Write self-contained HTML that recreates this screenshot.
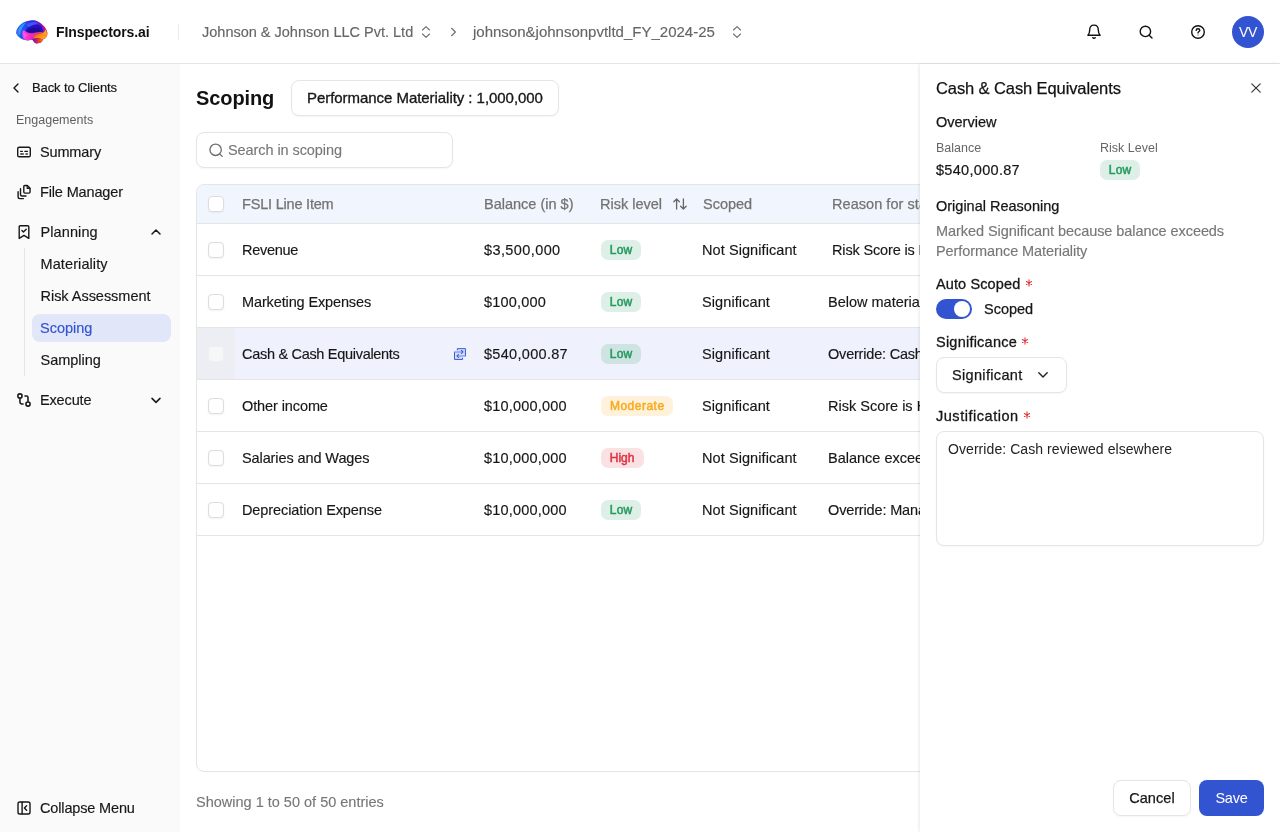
<!DOCTYPE html>
<html lang="en">
<head>
<meta charset="utf-8">
<title>Scoping</title>
<style>
*{box-sizing:border-box;margin:0;padding:0}
html,body{width:1280px;height:832px;overflow:hidden;background:#fff}
body{font-family:"Liberation Sans",sans-serif;color:#171717;position:relative;-webkit-font-smoothing:antialiased}
#app{position:absolute;left:0;top:0;width:1280px;height:832px;will-change:transform}
.abs{position:absolute}
.t{position:absolute;white-space:nowrap;line-height:20px;height:20px}
svg{position:absolute;overflow:visible}
/* header */
#hdr{position:absolute;left:0;top:0;width:1280px;height:64px;background:#fff;border-bottom:1px solid #e5e5e5}
/* sidebar */
#side{position:absolute;left:0;top:64px;width:180px;height:768px;background:#fafafa}
.nav{font-size:14.5px;color:#171717;letter-spacing:-.15px;-webkit-text-stroke:.15px}
/* main */
#main{position:absolute;left:180px;top:64px;width:1100px;height:768px;background:#fff}
.pill{position:absolute;border:1px solid #e5e5e5;border-radius:8px;background:#fff;box-shadow:0 1px 2px rgba(0,0,0,.04)}
#tbl{position:absolute;left:196px;top:184px;width:900px;height:588px;border:1px solid #e5e5e5;border-radius:8px;overflow:hidden;background:#fff}
.row{position:absolute;left:0;width:900px;height:52px;border-bottom:1px solid #e5e5e5}
.row .t{top:16px;font-size:14.5px;-webkit-text-stroke:.15px #171717}
.th{font-size:14.5px;color:#737373;-webkit-text-stroke:.25px #737373}
.cb{position:absolute;left:11px;width:16px;height:16px;border:1px solid #dcdcdc;border-radius:4px;background:#fff;box-shadow:0 1px 2px rgba(0,0,0,.05)}
.bdg{position:absolute;height:20px;border-radius:7px;font-size:12px;font-weight:400;line-height:20px;text-align:center;-webkit-text-stroke:.5px}
.low{background:rgba(42,157,99,.16);color:#249a5e;letter-spacing:.25px;text-indent:.25px}
.mod{background:rgba(249,171,30,.155);color:#f9ab1e}
.high{background:rgba(223,51,65,.15);color:#df3341;letter-spacing:0;text-indent:-.8px}
/* panel */
#pnl{position:absolute;left:920px;top:64px;width:360px;height:768px;background:#fff;box-shadow:-1px 0 3px rgba(0,0,0,.09)}
.req{color:#e5484d}
</style>
</head>
<body>
<div id="app">
<div id="hdr">
<!-- logo brain -->
<svg style="left:15px;top:19px" width="33" height="25" viewBox="0 0 33 25">
<defs>
<filter id="bl" x="-10%" y="-10%" width="120%" height="120%"><feGaussianBlur stdDeviation=".42"/></filter>
<filter id="bl2" x="-20%" y="-20%" width="140%" height="140%"><feGaussianBlur stdDeviation=".7"/></filter>
<clipPath id="bc"><path d="M1.1 13.6 C1.2 11.8 1.7 10.3 2.6 9 C3.6 7.4 4.8 6 6.2 5 C7.3 4.1 8.6 3.3 10 2.8 C11.6 2.1 13.2 1.6 15 1.4 C16.6 1.2 18.2 1.1 19.6 1.3 C21.2 1.6 22.6 2.2 23.8 3 C25.2 3.8 26.4 4.8 27.4 5.8 C28.8 7 29.9 8.3 30.7 9.6 C31.5 10.9 32.1 12.2 32.3 13.6 C32.5 14.9 32.3 16.1 31.8 17.2 C31.3 18.3 30.6 19.2 29.6 19.8 C29 20.2 28.3 20.4 27.6 20.5 C27.7 21.4 27.5 22.2 27 22.8 C26.4 23.5 25.5 23.9 24.4 24.1 C23.3 24.3 22.1 24.6 21 24.4 C20 24.1 19.3 23.4 18.8 22.7 C18.2 22 17.6 21.3 17.1 20.6 C15.8 21.1 14.5 21.4 13.2 21.4 C11.9 21.4 10.6 21.3 9.3 21 C7.9 20.6 6.6 20 5.4 19.2 C4.2 18.5 3.2 17.6 2.4 16.6 C1.6 15.7 1.1 14.7 1.1 13.6Z"/></clipPath>
<linearGradient id="gB" x1="0" y1="0" x2="1" y2="0"><stop offset="0" stop-color="#1f86ff"/><stop offset=".22" stop-color="#1f62f5"/><stop offset=".5" stop-color="#3a22d8"/><stop offset=".8" stop-color="#6a16c4"/><stop offset="1" stop-color="#c01890"/></linearGradient>
<linearGradient id="gP" x1="0" y1="0" x2="1" y2="0"><stop offset="0" stop-color="#ff48ea"/><stop offset=".45" stop-color="#f028b0"/><stop offset=".8" stop-color="#f03a70"/><stop offset="1" stop-color="#ff6a30"/></linearGradient>
<linearGradient id="gO" x1="0" y1="0" x2="1" y2="0"><stop offset="0" stop-color="#ff6a1a"/><stop offset=".5" stop-color="#ff9410"/><stop offset="1" stop-color="#ffae14"/></linearGradient>
<linearGradient id="gC" x1="0" y1="0" x2="1" y2="0"><stop offset="0" stop-color="#7a0ea8"/><stop offset=".35" stop-color="#b81870"/><stop offset=".65" stop-color="#e8401c"/><stop offset="1" stop-color="#ff7c10"/></linearGradient>
</defs>
<g filter="url(#bl)"><g clip-path="url(#bc)">
<rect x="0" y="0" width="33" height="25" fill="url(#gB)"/>
<!-- left blue stripes -->
<path d="M2 15 C2.5 10 6 5.5 11 3.5 C8 6.5 6 10.5 6.5 16.5 Z" fill="#2b9dff" filter="url(#bl2)"/>
<path d="M5.2 18.5 C4.6 12.5 7.5 7 13 4 C10 8 9 12.5 10 19.5 Z" fill="#1d55ee" filter="url(#bl2)"/>
<path d="M1 14.5 C1.4 12 2.6 9.5 4.2 7.6 C3.2 10.5 3.2 13.5 4.4 16.8 Z" fill="#7a3ae0" opacity=".55" filter="url(#bl2)"/>
<!-- light violet-blue highlight band at the top -->
<path d="M11.5 5.5 C15 3 20 2.2 24 4.2 C20.5 4.6 16.5 6.2 13.8 8.8 Z" fill="#3d55ff" filter="url(#bl2)"/>
<!-- dark indigo core -->
<path d="M10.6 12 C11.5 8.5 16.5 6 22 6 C25.5 6 28 8 28.2 10.8 C28.2 12.6 26.5 13.4 24 13.4 C20 13.2 17 14.6 14 14.2 C12 13.8 10.6 13.2 10.6 12Z" fill="#2a10b8" filter="url(#bl2)"/>
<path d="M13 11.6 C15 9.4 19.5 8.6 24 9.6 C25.6 10.2 25.8 11.8 24 12.4 C20.5 12.2 17.5 13.4 15 13.2 C13.6 13 12.8 12.4 13 11.6Z" fill="#1c0c96" filter="url(#bl2)"/>
<!-- purple/magenta right rim -->
<path d="M26 4.8 C29 7 31.6 10.2 32.4 13.8 L30 14 C30 10.6 28.4 7.6 26 4.8Z" fill="#d01878" filter="url(#bl2)"/>
<path d="M24.5 5 C27.8 7.4 29.6 10.4 29.8 13.6 L28 13.6 C28.4 10.4 27 7.4 24.5 5Z" fill="#8a18c0" filter="url(#bl2)"/>
<!-- pink swoosh -->
<path d="M7.6 11.6 C8.6 11.2 9.8 11.6 10.8 12.6 C12.4 14 14.8 14.6 17.6 14.2 C20 13.8 22.4 13.2 25 13.1 C26.4 13.1 27.4 13.4 28 13.8 C25.4 14 23.4 14.7 21.8 15.6 C20 16.6 18.6 17.8 18 19.2 C17.8 19.9 17.5 20.4 17.1 20.7 C14.6 21.7 11.4 21.7 9 20.6 C7.6 18.4 6.8 15 7.6 11.6Z" fill="url(#gP)" filter="url(#bl)"/>
<path d="M8.2 12.6 C9.2 14.6 11.2 15.8 13.6 16 C11.8 16.8 10.4 17.6 9.6 19 C8.6 17.2 8 15 8.2 12.6Z" fill="#ff58f0" opacity=".85" filter="url(#bl2)"/>
<!-- orange lower right -->
<path d="M17.8 19.8 C18.4 18 20 16.6 22 15.6 C23.8 14.8 25.8 14.2 28 13.9 C29 13.4 29.8 12.4 30.2 10.6 C31.4 11.6 32.2 12.6 32.4 13.6 C32.6 15 32.4 16.4 31.8 17.4 C31.2 18.6 30.4 19.4 29.6 19.9 C28.2 20.6 26.4 20.2 25 19.6 C23 19 20.4 19.2 17.8 19.8Z" fill="url(#gO)" filter="url(#bl)"/>
<path d="M20.5 17.7 C23 16.3 27 15.7 31 16.3" stroke="#e85a08" stroke-width=".6" fill="none" opacity=".6"/>
<path d="M30.8 10.6 C31.8 12.4 32.2 14.6 31.6 17 C32.6 15.8 32.8 13.8 32.2 12.2 Z" fill="#d8185a" opacity=".85" filter="url(#bl2)"/>
<!-- cerebellum -->
<path d="M17.2 20.4 C18.6 19.5 20.6 19.1 22.6 19.2 C24.4 19.3 26.2 19.7 27.5 20.5 C27.8 21.4 27.6 22.2 27 22.9 C26.2 23.7 25.2 24 24.2 24.2 C23.2 24.4 22 24.7 21 24.4 C20 24 19.2 23.3 18.7 22.6 C18.2 21.9 17.6 21.2 17.2 20.4Z" fill="url(#gC)"/>
</g></g>
</svg>
<div class="t" style="left:56px;top:22px;font-size:14px;font-weight:700;color:#111;letter-spacing:-.1px">FInspectors.ai</div>
<div class="abs" style="left:178px;top:24px;width:1px;height:16px;background:#ebebeb"></div>
<div class="t" style="left:202px;top:22px;font-size:14.5px;color:#666;-webkit-text-stroke:.15px #666">Johnson &amp; Johnson LLC Pvt. Ltd</div>
<svg style="left:419px;top:24px" width="14" height="16" viewBox="0 0 14 16" fill="none" stroke="#6f6f6f" stroke-width="1.15" stroke-linecap="round" stroke-linejoin="round"><path d="M3.5 6 L7 2.7 L10.5 6"/><path d="M3.5 10 L7 13.3 L10.5 10"/></svg>
<svg style="left:447px;top:25px" width="12" height="14" viewBox="0 0 12 14" fill="none" stroke="#6f6f6f" stroke-width="1.2" stroke-linecap="round" stroke-linejoin="round"><path d="M4.6 3.3 L8.4 7 L4.6 10.7"/></svg>
<div class="t" style="left:473px;top:22px;font-size:15px;color:#666;-webkit-text-stroke:.15px #666">johnson&amp;johnsonpvtltd_FY_2024-25</div>
<svg style="left:730px;top:24px" width="14" height="16" viewBox="0 0 14 16" fill="none" stroke="#6f6f6f" stroke-width="1.15" stroke-linecap="round" stroke-linejoin="round"><path d="M3.5 6 L7 2.7 L10.5 6"/><path d="M3.5 10 L7 13.3 L10.5 10"/></svg>
<!-- bell -->
<svg style="left:1086px;top:24px" width="16" height="16" viewBox="0 0 16 16" fill="none" stroke="#111" stroke-width="1.4" stroke-linecap="round" stroke-linejoin="round"><path d="M1.9 11.3 C3.3 9.9 3.7 8.6 3.7 6 C3.7 3.2 5.4 1.1 8 1.1 C10.6 1.1 12.3 3.2 12.3 6 C12.3 8.6 12.7 9.9 14.1 11.3 Z"/><path d="M6.8 13.7 C7.3 14.5 8.7 14.5 9.2 13.7"/></svg>
<!-- search -->
<svg style="left:1138px;top:24px" width="16" height="16" viewBox="0 0 16 16" fill="none" stroke="#111" stroke-width="1.4" stroke-linecap="round"><circle cx="7.4" cy="7.4" r="5.2"/><path d="M11.4 11.4 L14 14"/></svg>
<!-- help -->
<svg style="left:1190px;top:24px" width="16" height="16" viewBox="0 0 16 16" fill="none" stroke="#111" stroke-width="1.4" stroke-linecap="round" stroke-linejoin="round"><circle cx="8" cy="8" r="6.3"/><path d="M6.2 6.4 C6.2 5.3 7 4.7 8 4.7 C9 4.7 9.8 5.3 9.8 6.3 C9.8 7.5 8 7.6 8 8.9"/><circle cx="8" cy="11.1" r=".5" fill="#111" stroke="none"/></svg>
<div class="abs" style="left:1232px;top:16px;width:32px;height:32px;border-radius:16px;background:#3354d1"></div>
<div class="t" style="left:1232px;top:22px;width:32px;text-align:center;font-size:14px;color:#fff;letter-spacing:-.3px">VV</div>
</div>
<div id="side">
<!-- coordinates inside are relative to sidebar top=64 -->
<svg style="left:11px;top:16px" width="10" height="16" viewBox="0 0 10 16" fill="none" stroke="#171717" stroke-width="1.4" stroke-linecap="round" stroke-linejoin="round"><path d="M7 4 L3 8 L7 12"/></svg>
<div class="t" style="left:32px;top:14px;font-size:13px;color:#171717;letter-spacing:-.12px;-webkit-text-stroke:.2px #171717">Back to Clients</div>
<div class="t" style="left:16px;top:46px;font-size:12.5px;color:#606060">Engagements</div>
<!-- Summary icon -->
<svg style="left:16px;top:80px" width="16" height="16" viewBox="0 0 16 16" fill="none" stroke="#171717" stroke-width="1.4" stroke-linecap="round" stroke-linejoin="round"><rect x="1.7" y="3.2" width="12.6" height="9.6" rx="1.6"/><path d="M4.6 7.3 H6.4 M8.8 7.3 H11.5" stroke-width="1.3"/><path d="M4.2 10 H7.8 M9.4 10 H11.9" stroke-width="1.7" stroke-linecap="butt" stroke="#333"/></svg>
<div class="t nav" style="left:40px;top:78px">Summary</div>
<!-- File manager icon -->
<svg style="left:16px;top:120px" width="16" height="16" viewBox="0 0 16 16" fill="none" stroke="#171717" stroke-width="1.4" stroke-linecap="round" stroke-linejoin="round"><path d="M8.9 1.5 H11.3 L14.05 4.3 V8 C14.05 8.7 13.6 9.1 12.9 9.1 H8.9 C8.2 9.1 7.8 8.7 7.8 8 V2.6 C7.8 1.9 8.2 1.5 8.9 1.5Z"/><path d="M11.2 1.8 V4.4 H13.8" stroke-width="1.2"/><path d="M4.5 4.8 V10.5 C4.5 11.5 5.1 12 6 12 H10"/><path d="M2.1 7.8 V13.1 C2.1 14.1 2.7 14.6 3.6 14.6 H7.4"/></svg>
<div class="t nav" style="left:40px;top:118px">File Manager</div>
<!-- Planning icon -->
<svg style="left:16px;top:160px" width="16" height="16" viewBox="0 0 16 16" fill="none" stroke="#171717" stroke-width="1.4" stroke-linecap="round" stroke-linejoin="round"><path d="M3.2 14.4 V2.8 C3.2 2.2 3.6 1.8 4.2 1.8 H11.8 C12.4 1.8 12.8 2.2 12.8 2.8 V14.4 L8 11.4 Z"/><path d="M5.9 6.6 L7.4 8.1 L10.2 5.2"/></svg>
<div class="t nav" style="left:40.5px;top:158px;letter-spacing:.1px">Planning</div>
<svg style="left:150px;top:162px" width="12" height="12" viewBox="0 0 12 12" fill="none" stroke="#171717" stroke-width="1.5" stroke-linecap="round" stroke-linejoin="round"><path d="M2 8 L6 4 L10 8"/></svg>
<div class="abs" style="left:23.5px;top:184px;width:1px;height:128px;background:#e5e5e5"></div>
<div class="t nav" style="left:40.5px;top:190px;letter-spacing:.1px">Materiality</div>
<div class="t nav" style="left:40.5px;top:222px;letter-spacing:-.03px">Risk Assessment</div>
<div class="abs" style="left:32px;top:250px;width:139px;height:28px;border-radius:8px;background:#e1e6f8"></div>
<div class="t nav" style="left:40px;top:254px;color:#3354d1;letter-spacing:0">Scoping</div>
<div class="t nav" style="left:40.5px;top:286px;letter-spacing:-.02px">Sampling</div>
<!-- Execute icon -->
<svg style="left:16px;top:328px" width="16" height="16" viewBox="0 0 16 16" fill="none" stroke="#171717" stroke-width="1.55" stroke-linecap="round" stroke-linejoin="round"><circle cx="3.95" cy="3.95" r="2.1"/><circle cx="12" cy="12" r="2.1"/><path d="M3.95 6.2 V10.3 C3.95 11.4 4.5 11.9 5.6 11.9 H7.6" stroke-linecap="butt"/><path d="M8.4 3.95 H10.4 C11.5 3.95 12 4.5 12 5.6 V9.8" stroke-linecap="butt"/></svg>
<div class="t nav" style="left:40px;top:326px">Execute</div>
<svg style="left:150px;top:330px" width="12" height="12" viewBox="0 0 12 12" fill="none" stroke="#171717" stroke-width="1.5" stroke-linecap="round" stroke-linejoin="round"><path d="M2 4.4 L6 8.4 L10 4.4"/></svg>
<!-- Collapse -->
<svg style="left:16px;top:736px" width="16" height="16" viewBox="0 0 16 16" fill="none" stroke="#171717" stroke-width="1.4" stroke-linecap="round" stroke-linejoin="round"><rect x="2" y="2" width="12" height="12" rx="1.8"/><path d="M6.1 2.2 V13.8"/><path d="M10.6 5.8 L8.4 8 L10.6 10.2"/></svg>
<div class="t nav" style="left:40px;top:734px">Collapse Menu</div>
</div>
<div id="main"></div>
<div class="t" style="left:196px;top:86px;height:24px;line-height:24px;font-size:20px;font-weight:700;color:#111;letter-spacing:-.1px">Scoping</div>
<div class="pill" style="left:291px;top:80px;width:268px;height:36px"></div>
<div class="t" style="left:307px;top:88px;font-size:15px;color:#171717;letter-spacing:-.05px;-webkit-text-stroke:.33px #171717">Performance Materiality : 1,000,000</div>
<div class="pill" style="left:196px;top:132px;width:257px;height:36px"></div>
<svg style="left:208px;top:142px" width="16" height="16" viewBox="0 0 16 16" fill="none" stroke="#6b6b6b" stroke-width="1.3" stroke-linecap="round"><circle cx="7.6" cy="7.8" r="5.7"/><path d="M11.9 12.1 L14.2 14.4"/></svg>
<div class="t" style="left:228px;top:140px;font-size:14.5px;color:#777;letter-spacing:-.08px;-webkit-text-stroke:.12px #777">Search in scoping</div>
<div class="t" style="left:196px;top:792px;font-size:14.5px;color:#777;-webkit-text-stroke:.12px #777">Showing 1 to 50 of 50 entries</div>
<div id="tbl">
<div class="abs" style="left:0;top:0;width:900px;height:39px;background:#f1f5fd;border-bottom:1px solid #e5e5e5"></div>
<div class="cb" style="top:11px"></div>
<div class="t th" style="left:45px;top:9px;letter-spacing:-.2px">FSLI Line Item</div>
<div class="t th" style="left:287px;top:9px">Balance (in $)</div>
<div class="t th" style="left:403px;top:9px">Risk level</div>
<svg style="left:475px;top:11px" width="16" height="16" viewBox="0 0 16 16" fill="none" stroke="#666" stroke-width="1.3" stroke-linecap="round" stroke-linejoin="round"><path d="M4.6 13 V3 M1.8 5.8 L4.6 3 L7.4 5.8"/><path d="M11.4 3 V13 M8.6 10.2 L11.4 13 L14.2 10.2"/></svg>
<div class="t th" style="left:506px;top:9px">Scoped</div>
<div class="t th" style="left:635px;top:9px;letter-spacing:.05px">Reason for status</div>
<div class="row" style="top:39px"><div class="cb" style="top:18px"></div><div class="t" style="left:45px;letter-spacing:-.3px">Revenue</div><div class="t" style="left:287px;letter-spacing:.4px">$3,500,000</div><div class="bdg low" style="left:404px;top:16px;width:40px">Low</div><div class="t" style="left:505px;letter-spacing:.08px">Not Significant</div><div class="t" style="left:635px;letter-spacing:-.15px">Risk Score is Low</div></div>
<div class="row" style="top:91px"><div class="cb" style="top:18px"></div><div class="t" style="left:45px;letter-spacing:-.13px">Marketing Expenses</div><div class="t" style="left:287px;letter-spacing:.2px">$100,000</div><div class="bdg low" style="left:404px;top:16px;width:40px">Low</div><div class="t" style="left:505px;letter-spacing:.1px">Significant</div><div class="t" style="left:631px">Below materiality threshold</div></div>
<div class="row" style="top:143px;background:#eff1fc"><div class="abs" style="left:0;top:0;width:38px;height:51px;background:#edeef3"></div><div class="cb" style="top:18px;background:#f7f7f7;border-color:#f0f0f2;box-shadow:none"></div><svg style="left:257px;top:20px" width="12" height="12" viewBox="0 0 12 12" fill="none" stroke="#2f54d6" stroke-width=".95" stroke-linecap="round" stroke-linejoin="round"><path d="M3.3 .65 H11.45 V8 H8.55 V11.45 H.5 V3.95 H3.3Z" fill="#d3dbf6" stroke="none"/><path d="M3.3 1.9 V.65 H11.45 V7.9"/><path d="M8.55 10.2 V11.45 H.5 V4.1"/><path d="M.6 3.95 H8.6" stroke="#6f88e2" stroke-width="1.1"/><path d="M7.5 2.5 L9 3.95 L7.5 5.4" stroke="#3f60da" stroke-width="1.1"/><path d="M11.4 8 H3.4" stroke="#6f88e2" stroke-width="1.1"/><path d="M4.5 6.55 L3 8 L4.5 9.45" stroke="#3f60da" stroke-width="1.1"/></svg><div class="t" style="left:45px;letter-spacing:-.3px">Cash &amp; Cash Equivalents</div><div class="t" style="left:287px;letter-spacing:.3px">$540,000.87</div><div class="bdg low" style="left:404px;top:16px;width:40px">Low</div><div class="t" style="left:505px;letter-spacing:.1px">Significant</div><div class="t" style="left:631px;letter-spacing:-.2px">Override: Cash reviewed elsewhere</div></div>
<div class="row" style="top:195px"><div class="cb" style="top:18px"></div><div class="t" style="left:45px;letter-spacing:-.1px">Other income</div><div class="t" style="left:287px;letter-spacing:.2px">$10,000,000</div><div class="bdg mod" style="left:404px;top:16px;width:72px;letter-spacing:.5px;text-indent:.5px">Moderate</div><div class="t" style="left:505px;letter-spacing:.1px">Significant</div><div class="t" style="left:631px">Risk Score is High</div></div>
<div class="row" style="top:247px"><div class="cb" style="top:18px"></div><div class="t" style="left:45px;letter-spacing:-.1px">Salaries and Wages</div><div class="t" style="left:287px;letter-spacing:.2px">$10,000,000</div><div class="bdg high" style="left:404px;top:16px;width:43px">High</div><div class="t" style="left:505px;letter-spacing:.08px">Not Significant</div><div class="t" style="left:631px">Balance exceeds Performance Materiality</div></div>
<div class="row" style="top:299px"><div class="cb" style="top:18px"></div><div class="t" style="left:45px;letter-spacing:-.1px">Depreciation Expense</div><div class="t" style="left:287px;letter-spacing:.2px">$10,000,000</div><div class="bdg low" style="left:404px;top:16px;width:40px">Low</div><div class="t" style="left:505px;letter-spacing:.08px">Not Significant</div><div class="t" style="left:631px;letter-spacing:-.15px">Override: Management decision</div></div>
</div>
<div id="pnl">
<div class="t" style="left:16px;top:14px;font-size:16.5px;letter-spacing:-.1px;color:#111;-webkit-text-stroke:.25px #171717;">Cash &amp; Cash Equivalents</div>
<svg style="left:330px;top:18px" width="12" height="12" viewBox="0 0 12 12" fill="none" stroke="#333" stroke-width="1.15" stroke-linecap="round"><path d="M1.8 1.8 L10.2 10.2 M10.2 1.8 L1.8 10.2"/></svg>
<div class="t" style="left:16px;top:48px;font-size:14.5px;-webkit-text-stroke:.25px #171717;">Overview</div>
<div class="t" style="left:16px;top:74px;font-size:12.5px;color:#666">Balance</div>
<div class="t" style="left:180px;top:74px;font-size:12.5px;color:#666">Risk Level</div>
<div class="t" style="left:16px;top:96px;font-size:14.5px;letter-spacing:.3px;-webkit-text-stroke:.2px #171717">$540,000.87</div>
<div class="bdg low" style="left:180px;top:96px;width:40px">Low</div>
<div class="t" style="left:16px;top:132px;font-size:14.5px;-webkit-text-stroke:.25px #171717;">Original Reasoning</div>
<div class="t" style="left:16px;top:157px;font-size:14.5px;color:#777;letter-spacing:-.07px;-webkit-text-stroke:.15px #777">Marked Significant because balance exceeds</div>
<div class="t" style="left:16px;top:177px;font-size:14.5px;color:#777;letter-spacing:-.08px;-webkit-text-stroke:.15px #777">Performance Materiality</div>
<div class="t" style="left:16px;top:210px;font-size:14.5px;letter-spacing:.12px;-webkit-text-stroke:.3px #171717;">Auto Scoped</div>
<svg style="left:105px;top:215px" width="8" height="8" viewBox="0 0 8 8" fill="none" stroke="#e5383f" stroke-width="1.1" stroke-linecap="round"><path d="M4 .9 V7.1 M1.4 2.5 L6.6 5.5 M6.6 2.5 L1.4 5.5"/><circle cx="4" cy="4" r="1" fill="#e5383f" stroke="none"/></svg>
<svg style="left:101px;top:273.3px" width="8" height="8" viewBox="0 0 8 8" fill="none" stroke="#e5383f" stroke-width="1.1" stroke-linecap="round"><path d="M4 .9 V7.1 M1.4 2.5 L6.6 5.5 M6.6 2.5 L1.4 5.5"/><circle cx="4" cy="4" r="1" fill="#e5383f" stroke="none"/></svg>
<svg style="left:103px;top:346.9px" width="8" height="8" viewBox="0 0 8 8" fill="none" stroke="#e5383f" stroke-width="1.1" stroke-linecap="round"><path d="M4 .9 V7.1 M1.4 2.5 L6.6 5.5 M6.6 2.5 L1.4 5.5"/><circle cx="4" cy="4" r="1" fill="#e5383f" stroke="none"/></svg>
<div class="abs" style="left:16px;top:235px;width:36px;height:20px;border-radius:10px;background:#3354d1"></div>
<div class="abs" style="left:34px;top:237px;width:16px;height:16px;border-radius:8px;background:#fff"></div>
<div class="t" style="left:64px;top:235px;font-size:14.5px;-webkit-text-stroke:.25px #171717;">Scoped</div>
<div class="t" style="left:16px;top:268px;font-size:14.5px;letter-spacing:.23px;-webkit-text-stroke:.3px #171717;">Significance</div>
<div class="pill" style="left:16px;top:293px;width:131px;height:36px"></div>
<div class="t" style="left:32px;top:301px;font-size:14.5px;letter-spacing:.33px;-webkit-text-stroke:.25px #171717;">Significant</div>
<svg style="left:117px;top:305px" width="12" height="12" viewBox="0 0 12 12" fill="none" stroke="#222" stroke-width="1.4" stroke-linecap="round" stroke-linejoin="round"><path d="M1.8 3.8 L6 8 L10.2 3.8"/></svg>
<div class="t" style="left:16px;top:342px;font-size:14.5px;letter-spacing:.53px;-webkit-text-stroke:.3px #171717;">Justification</div>
<div class="pill" style="left:16px;top:367px;width:328px;height:115px"></div>
<div class="t" style="left:28px;top:375px;font-size:14px;letter-spacing:.07px;color:#222">Override: Cash reviewed elsewhere</div>
<div class="pill" style="left:193px;top:716px;width:78px;height:36px"></div>
<div class="t" style="left:193px;top:724px;width:78px;text-align:center;font-size:14.5px;letter-spacing:.1px;-webkit-text-stroke:.25px #171717;">Cancel</div>
<div class="abs" style="left:279px;top:716px;width:65px;height:36px;border-radius:8px;background:#3354d1"></div>
<div class="t" style="left:279px;top:724px;width:65px;text-align:center;font-size:14.5px;color:#fff;letter-spacing:-.2px">Save</div>
</div>
</div>
</body>
</html>
